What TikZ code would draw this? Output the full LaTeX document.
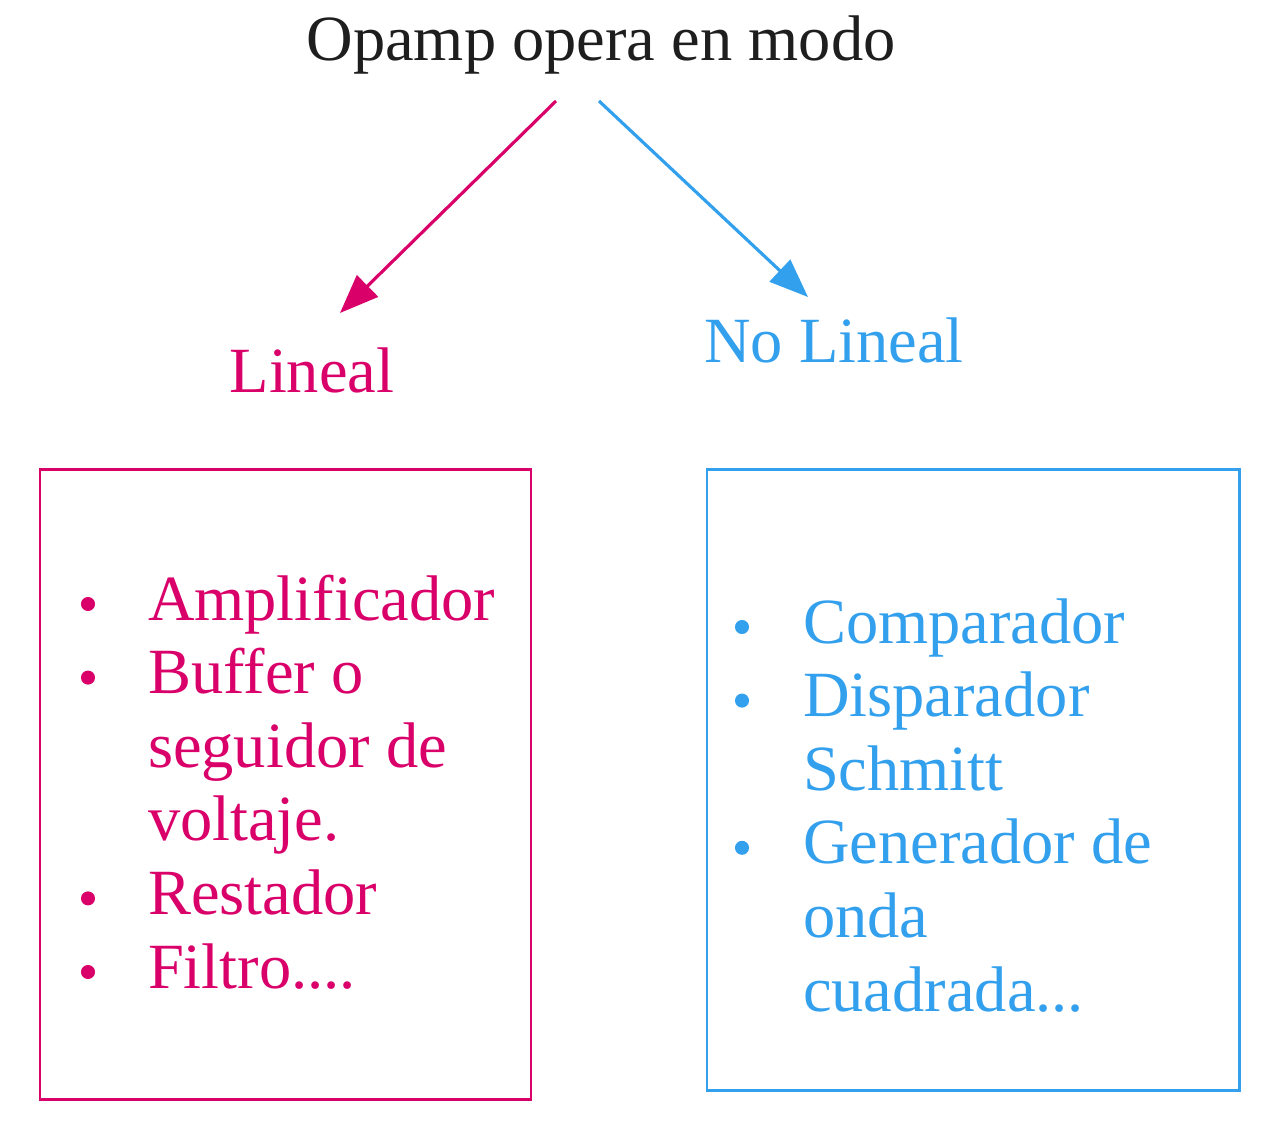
\documentclass[tikz,border=0pt]{standalone}
\usepackage{fontspec}
\setmainfont{Liberation Serif}
\usepackage{tikz}
\usetikzlibrary{arrows.meta}

\definecolor{linpink}{RGB}{217,0,106}
\definecolor{nlblue}{RGB}{51,160,238}
\definecolor{titgray}{RGB}{30,30,30}

\begin{document}
\begin{tikzpicture}[x=0.02cm,y=-0.02cm,
  every node/.style={inner sep=0pt,outer sep=0pt,font=\fontsize{36.7}{42}\selectfont},
  modearrow/.style={-{Triangle[length=22pt,width=17pt]},line width=1.8pt},
  listbox/.style={line width=1.7pt}]
  \useasboundingbox (0,0) rectangle (1269,1123);

  % Title
  \node[titgray,anchor=base] (title) at (601,60) {Opamp opera en modo};

  % Branch labels
  \node[linpink,anchor=base] (lineal) at (312,392) {Lineal};
  \node[nlblue,anchor=base] (nolineal) at (834,362) {No Lineal};

  % Arrows
  \coordinate (linstart) at (556,101);
  \coordinate (linend) at (340,313);
  \coordinate (nlstart) at (599,101);
  \coordinate (nlend) at (808,297);
  \draw[modearrow,linpink] (linstart) -- (linend);
  \draw[modearrow,nlblue] (nlstart) -- (nlend);

  % Boxes
  \draw[listbox,linpink] (40,469) rectangle (531,1099);
  \draw[listbox,nlblue] (707,469) rectangle (1239,1090);

  % Lineal list
  \foreach \b/\txt [count=\i from 0] in
    {1/Amplificador, 1/Buffer o, 0/seguidor de, 0/voltaje., 1/Restador, 1/{Filtro{.}{.}{.}{.}}} {
    \node[linpink,anchor=base west] (lin\i) at (148,{620+73.6*\i}) {\txt};
    \ifnum\b=1 \fill[linpink] (88,{604+73.6*\i}) circle (4pt); \fi
  }

  % No lineal list
  \foreach \b/\txt [count=\i from 0] in
    {1/Comparador, 1/Disparador, 0/Schmitt, 1/Generador de, 0/onda, 0/{cuadrada{.}{.}{.}}} {
    \node[nlblue,anchor=base west] (nl\i) at (803,{643+73.6*\i}) {\txt};
    \ifnum\b=1 \fill[nlblue] (742,{627+73.6*\i}) circle (4pt); \fi
  }
\end{tikzpicture}
\end{document}
